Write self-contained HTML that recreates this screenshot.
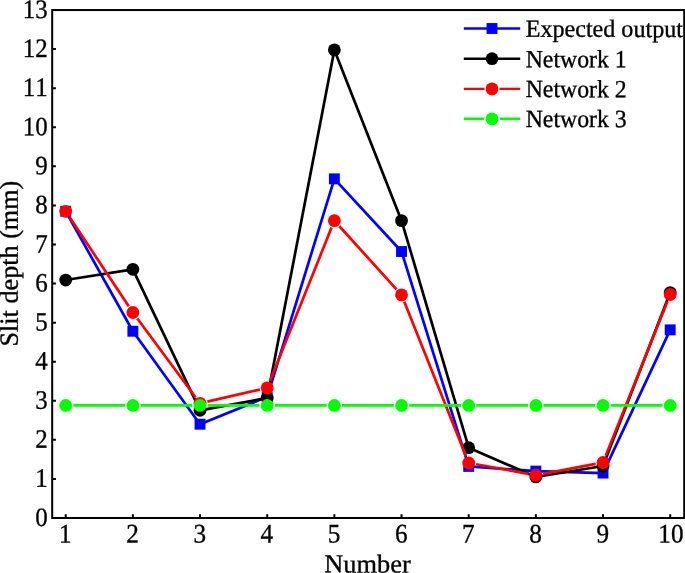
<!DOCTYPE html>
<html><head><meta charset="utf-8"><title>Chart</title>
<style>html,body{margin:0;padding:0;background:#fff;overflow:hidden}svg{display:block}text{stroke:#000;stroke-width:.35px;font-kerning:none}</style></head>
<body>
<svg width="685" height="573" viewBox="0 0 685 573" font-family="'Liberation Serif', 'Times New Roman', serif" font-size="26" fill="#000">
<rect width="685" height="573" fill="#fff"/>
<rect x="52.2" y="10.05" width="632.0" height="507.95" fill="none" stroke="#000" stroke-width="2.0"/>
<path d="M52.2 478.93h3.7 M52.2 439.85h3.7 M52.2 400.78h3.7 M52.2 361.71h3.7 M52.2 322.63h3.7 M52.2 283.56h3.7 M52.2 244.49h3.7 M52.2 205.42h3.7 M52.2 166.34h3.7 M52.2 127.27h3.7 M52.2 88.20h3.7 M52.2 49.12h3.7 M65.70 518.0v-3.7 M132.87 518.0v-3.7 M200.03 518.0v-3.7 M267.20 518.0v-3.7 M334.37 518.0v-3.7 M401.53 518.0v-3.7 M468.70 518.0v-3.7 M535.87 518.0v-3.7 M603.03 518.0v-3.7 M670.20 518.0v-3.7" stroke="#000" stroke-width="2.0" fill="none"/>
<text transform="translate(47.7 525.90) rotate(0.04) scale(0.94 1)" text-anchor="end" font-size="26.5">0</text>
<text transform="translate(47.7 486.83) rotate(0.04) scale(0.94 1)" text-anchor="end" font-size="26.5">1</text>
<text transform="translate(47.7 447.75) rotate(0.04) scale(0.94 1)" text-anchor="end" font-size="26.5">2</text>
<text transform="translate(47.7 408.68) rotate(0.04) scale(0.94 1)" text-anchor="end" font-size="26.5">3</text>
<text transform="translate(47.7 369.61) rotate(0.04) scale(0.94 1)" text-anchor="end" font-size="26.5">4</text>
<text transform="translate(47.7 330.53) rotate(0.04) scale(0.94 1)" text-anchor="end" font-size="26.5">5</text>
<text transform="translate(47.7 291.46) rotate(0.04) scale(0.94 1)" text-anchor="end" font-size="26.5">6</text>
<text transform="translate(47.7 252.39) rotate(0.04) scale(0.94 1)" text-anchor="end" font-size="26.5">7</text>
<text transform="translate(47.7 213.32) rotate(0.04) scale(0.94 1)" text-anchor="end" font-size="26.5">8</text>
<text transform="translate(47.7 174.24) rotate(0.04) scale(0.94 1)" text-anchor="end" font-size="26.5">9</text>
<text transform="translate(47.7 135.17) rotate(0.04) scale(0.94 1)" text-anchor="end" font-size="26.5">10</text>
<text transform="translate(47.7 96.10) rotate(0.04) scale(0.94 1)" text-anchor="end" font-size="26.5">11</text>
<text transform="translate(47.7 57.02) rotate(0.04) scale(0.94 1)" text-anchor="end" font-size="26.5">12</text>
<text transform="translate(47.7 17.95) rotate(0.04) scale(0.94 1)" text-anchor="end" font-size="26.5">13</text>
<text transform="translate(65.40 542.4) rotate(0.04) scale(0.94 1)" text-anchor="middle" font-size="26.8">1</text>
<text transform="translate(132.57 542.4) rotate(0.04) scale(0.94 1)" text-anchor="middle" font-size="26.8">2</text>
<text transform="translate(199.73 542.4) rotate(0.04) scale(0.94 1)" text-anchor="middle" font-size="26.8">3</text>
<text transform="translate(266.90 542.4) rotate(0.04) scale(0.94 1)" text-anchor="middle" font-size="26.8">4</text>
<text transform="translate(334.07 542.4) rotate(0.04) scale(0.94 1)" text-anchor="middle" font-size="26.8">5</text>
<text transform="translate(401.23 542.4) rotate(0.04) scale(0.94 1)" text-anchor="middle" font-size="26.8">6</text>
<text transform="translate(468.40 542.4) rotate(0.04) scale(0.94 1)" text-anchor="middle" font-size="26.8">7</text>
<text transform="translate(535.57 542.4) rotate(0.04) scale(0.94 1)" text-anchor="middle" font-size="26.8">8</text>
<text transform="translate(602.73 542.4) rotate(0.04) scale(0.94 1)" text-anchor="middle" font-size="26.8">9</text>
<text transform="translate(670.90 542.4) rotate(0.04) scale(0.94 1)" text-anchor="middle" font-size="26.8">10</text>
<text transform="translate(367.5 572.4) rotate(0.04) scale(1.022 1)" text-anchor="middle" font-size="25.8">Number</text>
<text transform="translate(17.7 263.6) rotate(-90.04)" text-anchor="middle" font-size="26.2">Slit depth (mm)</text>
<g><path d="M65.70 211.28L132.87 331.23 M132.87 331.23L200.03 424.22 M200.03 424.22L267.20 396.87 M267.20 396.87L334.37 178.85 M334.37 178.85L401.53 251.52 M401.53 251.52L468.70 466.42 M468.70 466.42L535.87 471.11 M535.87 471.11L603.03 473.07 M603.03 473.07L670.20 329.86" stroke="#0000ff" stroke-width="2.7" fill="none"/>
<rect x="60.25" y="205.83" width="10.9" height="10.9" fill="#0000ff"/>
<rect x="127.42" y="325.78" width="10.9" height="10.9" fill="#0000ff"/>
<rect x="194.58" y="418.77" width="10.9" height="10.9" fill="#0000ff"/>
<rect x="261.75" y="391.42" width="10.9" height="10.9" fill="#0000ff"/>
<rect x="328.92" y="173.40" width="10.9" height="10.9" fill="#0000ff"/>
<rect x="396.08" y="246.07" width="10.9" height="10.9" fill="#0000ff"/>
<rect x="463.25" y="460.97" width="10.9" height="10.9" fill="#0000ff"/>
<rect x="530.42" y="465.66" width="10.9" height="10.9" fill="#0000ff"/>
<rect x="597.58" y="467.62" width="10.9" height="10.9" fill="#0000ff"/>
<rect x="664.75" y="324.41" width="10.9" height="10.9" fill="#0000ff"/>
</g>
<g><path d="M65.70 280.04L132.87 269.30 M132.87 269.30L200.03 410.31 M200.03 410.31L267.20 398.05 M267.20 398.05L334.37 49.90 M334.37 49.90L401.53 220.65 M401.53 220.65L468.70 447.67 M468.70 447.67L535.87 476.97 M535.87 476.97L603.03 466.03 M603.03 466.03L670.20 292.55" stroke="#000000" stroke-width="2.7" fill="none"/>
<circle cx="65.70" cy="280.04" r="6.4" fill="#000000"/>
<circle cx="132.87" cy="269.30" r="6.4" fill="#000000"/>
<circle cx="200.03" cy="410.31" r="6.4" fill="#000000"/>
<circle cx="267.20" cy="398.05" r="6.4" fill="#000000"/>
<circle cx="334.37" cy="49.90" r="6.4" fill="#000000"/>
<circle cx="401.53" cy="220.65" r="6.4" fill="#000000"/>
<circle cx="468.70" cy="447.67" r="6.4" fill="#000000"/>
<circle cx="535.87" cy="476.97" r="6.4" fill="#000000"/>
<circle cx="603.03" cy="466.03" r="6.4" fill="#000000"/>
<circle cx="670.20" cy="292.55" r="6.4" fill="#000000"/>
</g>
<g><path d="M69.85 217.53L128.72 306.23 M137.33 318.51L195.57 397.29 M207.34 401.64L259.89 389.57 M270.00 380.93L331.57 227.61 M339.40 226.22L396.50 289.33 M404.32 301.86L465.92 455.94 M476.08 464.26L528.49 473.86 M543.24 473.82L595.66 463.91 M605.82 455.55L667.42 301.47" stroke="#ff0000" stroke-width="2.7" fill="none"/>
<circle cx="65.70" cy="211.28" r="6.4" fill="#ff0000"/>
<circle cx="132.87" cy="312.48" r="6.4" fill="#ff0000"/>
<circle cx="200.03" cy="403.32" r="6.4" fill="#ff0000"/>
<circle cx="267.20" cy="387.89" r="6.4" fill="#ff0000"/>
<circle cx="334.37" cy="220.65" r="6.4" fill="#ff0000"/>
<circle cx="401.53" cy="294.89" r="6.4" fill="#ff0000"/>
<circle cx="468.70" cy="462.91" r="6.4" fill="#ff0000"/>
<circle cx="535.87" cy="475.21" r="6.4" fill="#ff0000"/>
<circle cx="603.03" cy="462.52" r="6.4" fill="#ff0000"/>
<circle cx="670.20" cy="294.50" r="6.4" fill="#ff0000"/>
</g>
<g><path d="M73.40 405.47L125.17 405.47 M140.57 405.47L192.33 405.47 M207.73 405.47L259.50 405.47 M274.90 405.47L326.67 405.47 M342.07 405.47L393.83 405.47 M409.23 405.47L461.00 405.47 M476.40 405.47L528.17 405.47 M543.57 405.47L595.33 405.47 M610.73 405.47L662.50 405.47" stroke="#00ff00" stroke-width="2.7" fill="none"/>
<circle cx="65.70" cy="405.47" r="6.4" fill="#00ff00"/>
<circle cx="132.87" cy="405.47" r="6.4" fill="#00ff00"/>
<circle cx="200.03" cy="405.47" r="6.4" fill="#00ff00"/>
<circle cx="267.20" cy="405.47" r="6.4" fill="#00ff00"/>
<circle cx="334.37" cy="405.47" r="6.4" fill="#00ff00"/>
<circle cx="401.53" cy="405.47" r="6.4" fill="#00ff00"/>
<circle cx="468.70" cy="405.47" r="6.4" fill="#00ff00"/>
<circle cx="535.87" cy="405.47" r="6.4" fill="#00ff00"/>
<circle cx="603.03" cy="405.47" r="6.4" fill="#00ff00"/>
<circle cx="670.20" cy="405.47" r="6.4" fill="#00ff00"/>
</g>
<path d="M463.8 28.5H520.2" stroke="#0000ff" stroke-width="2.4"/>
<rect x="486.55" y="23.05" width="10.9" height="10.9" fill="#0000ff"/>
<text transform="translate(525.7 36.8) rotate(0.04) scale(0.976 1)" font-size="24.7">Expected output</text>
<path d="M463.8 58.7H520.2" stroke="#000000" stroke-width="2.4"/>
<circle cx="492" cy="58.7" r="6.4" fill="#000000"/>
<text transform="translate(525.7 67.2) rotate(0.04) scale(0.962 1)" font-size="24.7">Network 1</text>
<path d="M463.8 88.9H484.5M499.5 88.9H520.2" stroke="#ff0000" stroke-width="2.4"/>
<circle cx="492" cy="88.9" r="6.4" fill="#ff0000"/>
<text transform="translate(525.7 97.1) rotate(0.04) scale(0.962 1)" font-size="24.7">Network 2</text>
<path d="M463.8 118.8H484.3M499.7 118.8H520.2" stroke="#00ff00" stroke-width="2.4"/>
<circle cx="492" cy="118.8" r="6.4" fill="#00ff00"/>
<text transform="translate(525.7 126.9) rotate(0.04) scale(0.962 1)" font-size="24.7">Network 3</text>
</svg>
</body></html>
